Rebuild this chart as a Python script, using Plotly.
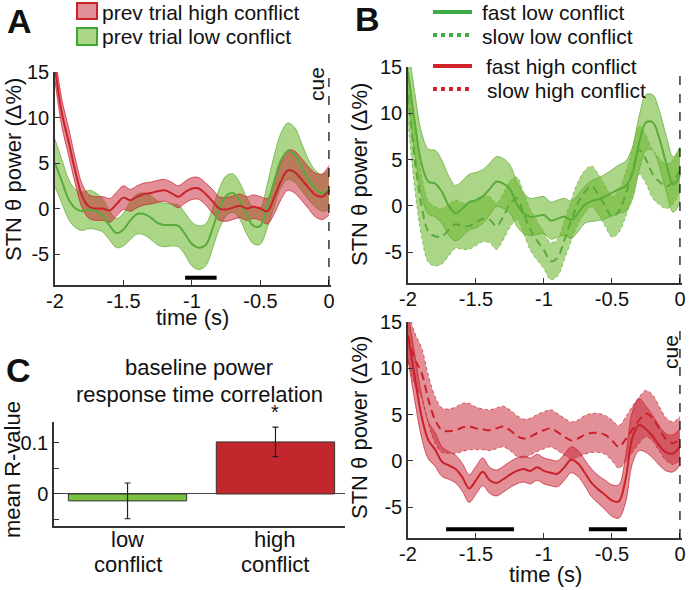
import plotly.graph_objects as go

W, H = 689, 590
FONT = "Liberation Sans, Arial, sans-serif"

# ---------------- data ----------------
T = [-2.0, -1.95, -1.9, -1.85, -1.8, -1.75, -1.7, -1.65, -1.6, -1.55, -1.5,
     -1.45, -1.4, -1.35, -1.3, -1.25, -1.2, -1.15, -1.1, -1.05, -1.0,
     -0.95, -0.9, -0.85, -0.8, -0.75, -0.7, -0.65, -0.6, -0.55, -0.5,
     -0.45, -0.4, -0.35, -0.3, -0.25, -0.2, -0.15, -0.1, -0.05, 0.0]

# Panel A
a_high_mean = [15.5, 10.5, 7.3, 4.0, 1.3, 0.2, 0.0, 0.0, -0.2, 0.5, 1.2, 0.9, 1.3, 1.6, 1.7, 1.9, 2.0, 1.7, 1.3, 1.8,
               2.2, 2.2, 1.6, 0.8, 0.0, -0.1, 0.1, 0.3, 0.0, 0.2, 0.0, -0.3, 1.2, 3.0, 4.2, 4.0, 3.2, 2.3, 1.5, 1.3, 2.0]
a_high_sem = [1.5, 1.5, 1.5, 1.4, 1.3, 1.3, 1.3, 1.3, 1.3, 1.3, 1.3, 1.2, 1.2, 1.2, 1.2, 1.2, 1.2, 1.2, 1.2, 1.2,
              1.2, 1.2, 1.2, 1.3, 1.3, 1.3, 1.3, 1.3, 1.3, 1.3, 1.3, 1.4, 1.8, 2.0, 2.2, 2.3, 2.3, 2.3, 2.4, 2.5, 2.7]
a_low_mean = [5.0, 3.0, 1.0, 0.0, -0.3, -0.1, -0.3, -0.8, -1.9, -2.7, -2.3, -1.3, -0.6, -0.6, -1.0, -1.6, -1.8, -1.8, -1.9, -2.8,
              -3.9, -4.3, -4.0, -2.2, 0.0, 1.4, 1.7, 0.8, -0.8, -1.9, -1.9, 0.3, 3.0, 5.3, 6.3, 5.9, 4.6, 3.2, 2.2, 1.7, 2.1]
a_low_sem = [2.6, 2.4, 2.2, 2.1, 2.1, 2.1, 2.0, 1.8, 1.6, 1.6, 1.8, 2.1, 2.2, 2.3, 2.4, 2.4, 2.4, 2.3, 2.3, 2.3,
             2.4, 2.4, 2.3, 2.2, 2.2, 2.2, 2.1, 2.0, 2.0, 2.0, 2.0, 2.4, 2.8, 3.0, 3.1, 3.0, 2.6, 2.2, 2.0, 2.0, 2.2]
a_sig = [-1.05, -0.82]
a_sig_y = -7.6

# Panel B top (low conflict)
b_fast_low_mean = [14.5, 9.0, 4.5, 2.6, 2.4, 1.5, 0.0, -0.8, -0.3, 0.4, 0.6, 1.0, 1.8, 2.6, 2.4, 1.8, 0.2, -0.8, -1.2, -1.1,
                   -1.0, -1.6, -1.4, -1.2, -1.5, -0.8, 0.1, 0.5, 0.7, 1.0, 1.4, 1.8, 2.1, 3.5, 6.8, 9.0, 9.0, 7.2, 4.5, 2.3, 3.3]
b_fast_low_sem = [3.0, 3.2, 3.4, 3.5, 3.6, 3.4, 3.2, 3.0, 3.0, 3.0, 3.0, 2.9, 2.8, 2.7, 2.7, 2.6, 2.4, 2.2, 2.0, 2.0,
                  2.0, 2.0, 2.0, 2.0, 2.0, 2.0, 2.0, 2.2, 2.3, 2.4, 2.5, 2.6, 2.7, 2.8, 2.9, 3.0, 3.0, 3.0, 3.0, 3.0, 3.0]
b_slow_low_mean = [12.0, 5.0, 0.0, -2.8, -3.3, -3.3, -2.6, -2.0, -2.2, -2.2, -1.8, -1.4, -1.5, -2.2, -1.2, 0.2, 0.8, -0.8, -2.6, -3.8,
                   -4.8, -6.0, -5.6, -3.7, -1.6, 0.3, 1.5, 2.1, 1.2, 0.0, -1.2, -0.6, 1.2, 3.6, 6.0, 5.0, 3.4, 2.6, 2.1, 2.6, 4.0]
b_slow_low_sem = [3.0, 3.2, 3.3, 3.3, 3.2, 3.0, 2.8, 2.6, 2.5, 2.5, 2.5, 2.5, 2.5, 2.5, 2.5, 2.5, 2.3, 2.2, 2.2, 2.1,
                  2.0, 2.0, 2.0, 2.1, 2.2, 2.3, 2.3, 2.2, 2.2, 2.2, 2.2, 2.3, 2.4, 2.5, 2.6, 2.6, 2.6, 2.5, 2.4, 2.4, 2.4]

# Panel B bottom (high conflict)
b_fast_high_mean = [13.5, 9.0, 4.8, 2.2, 1.2, -0.1, -0.5, -0.9, -1.8, -3.0, -2.1, -1.2, -2.1, -2.4, -2.0, -1.5, -1.1, -0.9, -1.1, -0.7,
                    -1.1, -1.3, -1.4, -0.7, 0.1, -0.3, -1.3, -2.4, -3.1, -3.7, -4.3, -4.4, -2.0, 2.5, 3.9, 3.4, 2.6, 1.6, 0.9, 0.8, 1.5]
b_fast_high_sem = [2.5, 2.5, 2.3, 2.0, 1.8, 1.6, 1.5, 1.5, 1.5, 1.5, 1.5, 1.5, 1.4, 1.4, 1.4, 1.4, 1.4, 1.4, 1.4, 1.4,
                   1.4, 1.4, 1.4, 1.4, 1.4, 1.4, 1.4, 1.5, 1.5, 1.6, 1.7, 1.8, 2.5, 2.8, 2.8, 2.5, 2.3, 2.1, 2.0, 2.0, 2.0]
b_slow_high_mean = [13.5, 11.0, 9.5, 6.6, 4.4, 3.3, 3.2, 3.3, 3.6, 3.7, 3.5, 3.4, 3.3, 3.5, 3.7, 3.3, 2.7, 2.4, 2.6, 3.0,
                    3.3, 3.5, 3.1, 2.6, 2.2, 2.4, 2.8, 3.0, 3.0, 2.8, 2.2, 1.5, 2.3, 3.4, 4.4, 5.1, 4.6, 3.4, 2.3, 1.9, 2.4]
b_slow_high_sem = [2.8, 2.8, 2.7, 2.6, 2.5, 2.4, 2.4, 2.5, 2.6, 2.5, 2.3, 2.2, 2.2, 2.2, 2.2, 2.2, 2.2, 2.1, 2.0, 2.0,
                   2.0, 2.0, 2.0, 2.0, 2.0, 2.0, 2.1, 2.1, 2.1, 2.1, 2.2, 2.3, 2.4, 2.5, 2.5, 2.5, 2.5, 2.4, 2.3, 2.3, 2.4]
b_sig = [[-1.72, -1.22], [-0.67, -0.39]]
b_sig_y = -7.4

# Panel C
c_categories = ["low<br>conflict", "high<br>conflict"]
c_values = [-0.0135, 0.102]
c_errors = [0.035, 0.029]

x_ticks = [-2, -1.5, -1, -0.5, 0]
x_ticktext = ["-2", "-1.5", "-1", "-0.5", "0"]
y_ticks = [-5, 0, 5, 10, 15]
y_ticktext = ["-5", "0", "5", "10", "15"]
CUE_T = 0

# ---------------- styles ----------------
RED_LINE = "#c9222b"
RED_FILL = "rgba(200,40,55,0.52)"
RED_EDGE = "rgba(200,30,45,0.9)"
GREEN_LINE = "#5aab3a"
GREEN_FILL = "rgba(115,185,55,0.60)"
GREEN_EDGE = "rgba(95,170,50,0.9)"
AX = "#333333"
MEAN_DASH = "8px,5px"

fig = go.Figure()


def band(xa, ya, mean, sem, fill, edge, edash):
    lo = [m - s for m, s in zip(mean, sem)]
    hi = [m + s for m, s in zip(mean, sem)]
    fig.add_trace(go.Scatter(x=T, y=lo, xaxis=xa, yaxis=ya, mode="lines",
                             line=dict(color=edge, width=0.8, dash=edash, shape="spline", smoothing=1.0),
                             showlegend=False, hoverinfo="skip"))
    fig.add_trace(go.Scatter(x=T, y=hi, xaxis=xa, yaxis=ya, mode="lines", fill="tonexty",
                             fillcolor=fill,
                             line=dict(color=edge, width=0.8, dash=edash, shape="spline", smoothing=1.0),
                             showlegend=False, hoverinfo="skip"))


def meanline(xa, ya, mean, color, dash):
    fig.add_trace(go.Scatter(x=T, y=mean, xaxis=xa, yaxis=ya, mode="lines",
                             line=dict(color=color, width=2, dash=dash, shape="spline", smoothing=1.0),
                             showlegend=False, hoverinfo="skip"))


# Panel A
band("x", "y", a_low_mean, a_low_sem, GREEN_FILL, GREEN_EDGE, "solid")
band("x", "y", a_high_mean, a_high_sem, RED_FILL, RED_EDGE, "solid")
meanline("x", "y", a_low_mean, GREEN_LINE, "solid")
meanline("x", "y", a_high_mean, RED_LINE, "solid")
fig.add_trace(go.Scatter(x=a_sig, y=[a_sig_y, a_sig_y], xaxis="x", yaxis="y", mode="lines",
                         line=dict(color="black", width=4), showlegend=False, hoverinfo="skip"))

# Panel B top
band("x2", "y2", b_slow_low_mean, b_slow_low_sem, GREEN_FILL, GREEN_EDGE, "dot")
band("x2", "y2", b_fast_low_mean, b_fast_low_sem, GREEN_FILL, GREEN_EDGE, "solid")
meanline("x2", "y2", b_slow_low_mean, GREEN_LINE, MEAN_DASH)
meanline("x2", "y2", b_fast_low_mean, GREEN_LINE, "solid")

# Panel B bottom
band("x3", "y3", b_slow_high_mean, b_slow_high_sem, RED_FILL, RED_EDGE, "dot")
band("x3", "y3", b_fast_high_mean, b_fast_high_sem, RED_FILL, RED_EDGE, "solid")
meanline("x3", "y3", b_slow_high_mean, RED_LINE, MEAN_DASH)
meanline("x3", "y3", b_fast_high_mean, RED_LINE, "solid")
for seg in b_sig:
    fig.add_trace(go.Scatter(x=seg, y=[b_sig_y, b_sig_y], xaxis="x3", yaxis="y3", mode="lines",
                             line=dict(color="black", width=4), showlegend=False, hoverinfo="skip"))

# Panel C
fig.add_trace(go.Bar(x=[0, 1], y=c_values, xaxis="x4", yaxis="y4", width=0.8,
                     marker=dict(color=["#7bc143", "#c1272d"], line=dict(color="#333", width=1)),
                     error_y=dict(type="data", array=c_errors, color="#222", thickness=1.2, width=3),
                     showlegend=False, hoverinfo="skip"))


def px(x):
    return x / W


def py(y):
    return 1 - y / H


tick_font = dict(family=FONT, size=20, color="#111")
common_x = dict(showline=True, linecolor=AX, linewidth=1.5, ticks="inside", ticklen=5, tickcolor=AX,
                tickvals=x_ticks, ticktext=x_ticktext, tickfont=tick_font, showgrid=False, zeroline=False,
                range=[-2, 0.015], automargin=False, ticklabelstandoff=-3)
common_y = dict(showline=True, linecolor=AX, linewidth=1.5, ticks="inside", ticklen=5, tickcolor=AX,
                tickvals=y_ticks, ticktext=y_ticktext, tickfont=tick_font, showgrid=False, zeroline=False,
                automargin=False)

fig.update_layout(
    width=W, height=H, margin=dict(l=0, r=0, t=0, b=0, autoexpand=False),
    paper_bgcolor="white", plot_bgcolor="white",
    font=dict(family=FONT, color="#111"),
    xaxis=dict(domain=[px(55), px(331)], anchor="y", **common_x),
    yaxis=dict(domain=[py(285), py(72)], anchor="x", range=[-8.4, 15], **common_y),
    xaxis2=dict(domain=[px(408), px(682)], anchor="y2", **common_x),
    yaxis2=dict(domain=[py(283), py(67)], anchor="x2", range=[-8.35, 15], **common_y),
    xaxis3=dict(domain=[px(408), px(682)], anchor="y3", **common_x),
    yaxis3=dict(domain=[py(538), py(322)], anchor="x3", range=[-8.35, 15], **common_y),
    xaxis4=dict(domain=[px(54), px(345)], anchor="y4", range=[-0.497, 1.47], showline=True, linecolor=AX,
                linewidth=1.5, ticks="", tickvals=[0, 1], ticktext=["", ""],
                showgrid=False, zeroline=False, automargin=False),
    yaxis4=dict(domain=[py(526), py(422)], anchor="x4", range=[-0.0627, 0.141], showline=True, linecolor=AX,
                linewidth=1.5, ticks="inside", ticklen=5, tickcolor=AX,
                tickvals=[-0.05, 0, 0.05, 0.1], ticktext=["", "0", "", "0.1"], tickfont=tick_font,
                showgrid=False, zeroline=True, zerolinecolor="#444", zerolinewidth=1, automargin=False),
    bargap=0.2,
)

shapes = []
# cue lines
for xa, ya in [("x", "y"), ("x2", "y2"), ("x3", "y3")]:
    shapes.append(dict(type="line", xref=xa, yref=ya + " domain", x0=CUE_T, x1=CUE_T, y0=0, y1=1,
                       line=dict(color="black", width=1.2, dash="dash")))
# legend A swatches
shapes.append(dict(type="rect", xref="paper", yref="paper", x0=px(77), x1=px(97), y0=py(19), y1=py(3),
                   fillcolor=RED_FILL, line=dict(color=RED_LINE, width=2)))
shapes.append(dict(type="rect", xref="paper", yref="paper", x0=px(77), x1=px(97), y0=py(45), y1=py(28),
                   fillcolor=GREEN_FILL, line=dict(color="#3fa535", width=2)))
# legend B swatches
for y, col, dash in [(12, "#3faa48", "solid"), (35, "#3faa48", "4px,4px"),
                     (66, "#d0232a", "solid"), (89, "#d0232a", "4px,4px")]:
    shapes.append(dict(type="line", xref="paper", yref="paper", x0=px(433), x1=px(472), y0=py(y), y1=py(y),
                       line=dict(color=col, width=4, dash=dash)))
fig.update_layout(shapes=shapes)

ann = []


def text(x, y, s, size=21, angle=0, xanchor="center", bold=False):
    ann.append(dict(x=px(x), y=py(y), xref="paper", yref="paper",
                    text=("<b>%s</b>" % s) if bold else s,
                    showarrow=False, textangle=angle, xanchor=xanchor, yanchor="middle",
                    font=dict(family=FONT, size=size, color="#111")))


text(19, 21, "A", size=34, bold=True)
text(367, 19, "B", size=34, bold=True)
text(18, 370, "C", size=34, bold=True)
text(100, 12, "prev trial high conflict", size=21, xanchor="left")
text(100, 36, "prev trial low conflict", size=21, xanchor="left")
text(480, 12, "fast low conflict", size=21, xanchor="left")
text(480, 36, "slow low conflict", size=21, xanchor="left")
text(484, 66, "fast high conflict", size=21, xanchor="left")
text(485, 90, "slow high conflict", size=21, xanchor="left")
text(13, 170, "STN θ power (Δ%)", size=22, angle=-90)
text(359, 175, "STN θ power (Δ%)", size=22, angle=-90)
text(359, 428, "STN θ power (Δ%)", size=22, angle=-90)
text(192, 317, "time (s)", size=22)
text(545, 574, "time (s)", size=22)
text(317, 84, "cue", size=21, angle=-90)
text(670, 352, "cue", size=21, angle=-90)
text(199, 367, "baseline power", size=22)
text(199, 394, "response time correlation", size=22)
text(12, 470, "mean R-value", size=22, angle=-90)
text(275, 412, "*", size=20)
# category labels of panel C (placed at bar positions through the x4 axis)
for i, cat in enumerate(c_categories):
    for j, line in enumerate(cat.split("<br>")):
        ann.append(dict(x=i, y=py(539 + 25 * j), xref="x4", yref="paper", text=line, showarrow=False,
                        xanchor="center", yanchor="middle", font=dict(family=FONT, size=22, color="#111")))
fig.update_layout(annotations=ann)

fig.write_html("out.html", config={"displayModeBar": False},
               post_script="document.body.style.margin='0';document.body.style.padding='0';"
                           "document.documentElement.style.margin='0';")
